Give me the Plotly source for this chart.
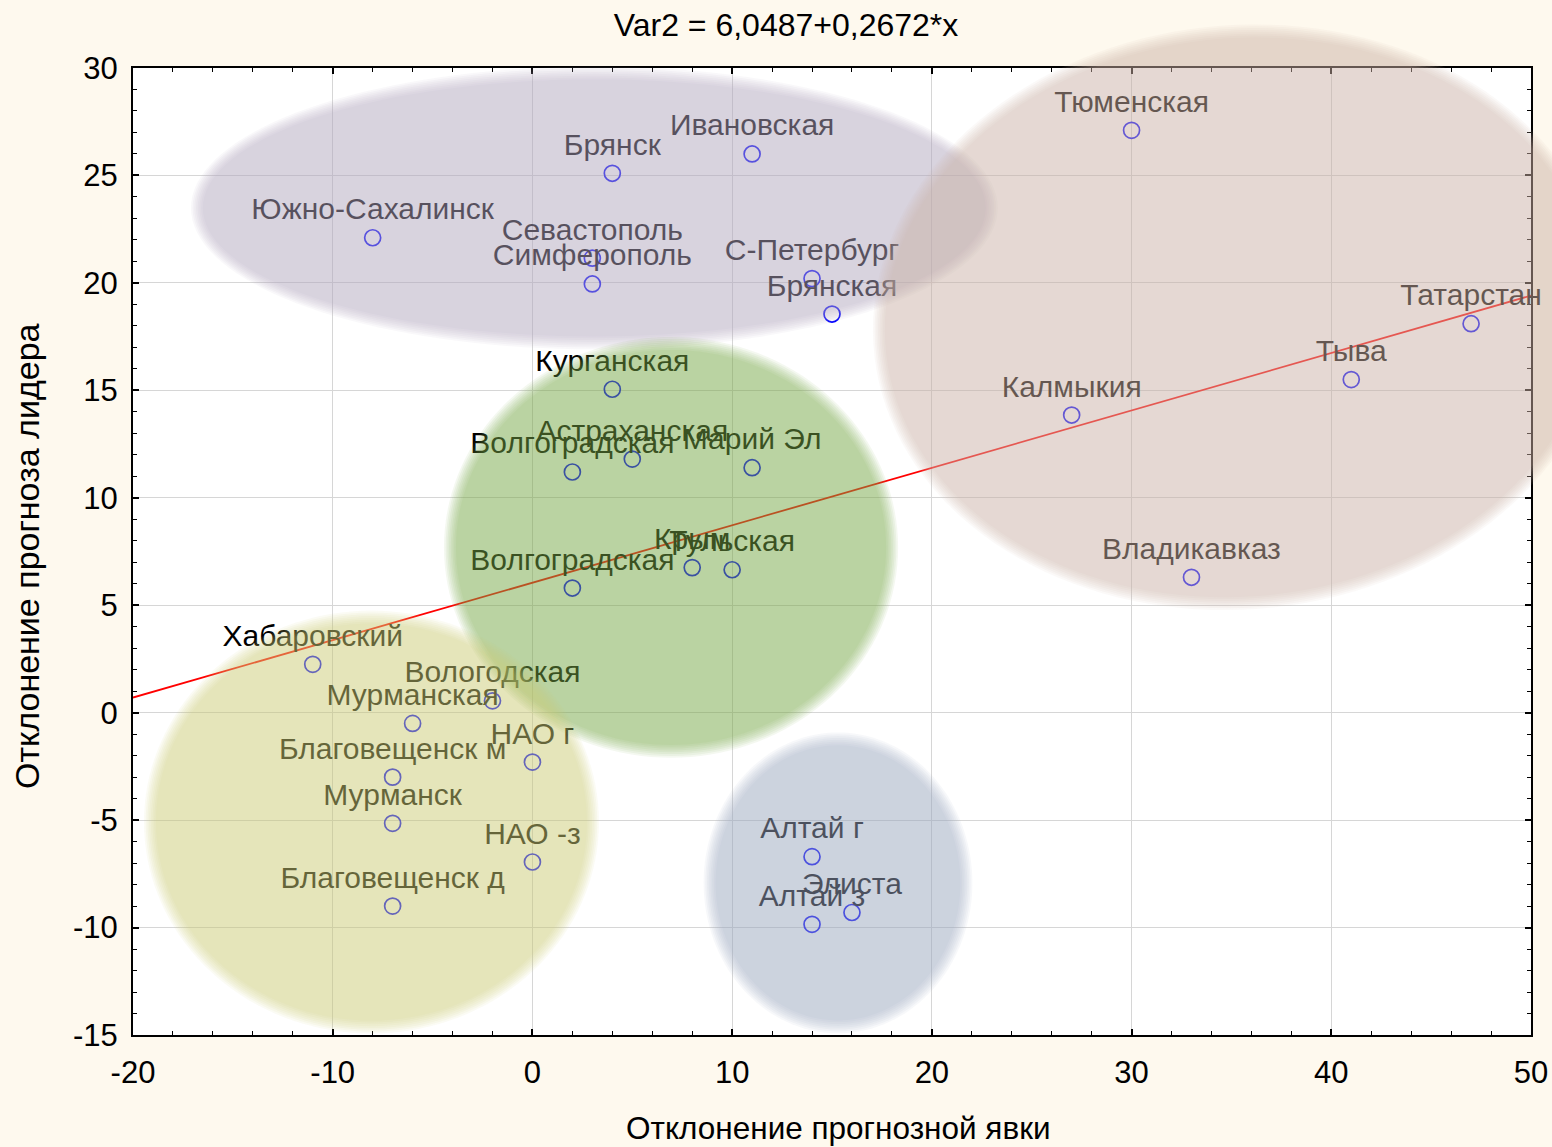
import numpy as np
import plotly.graph_objects as go

# ---------------- data ----------------
names = ["Тюменская", "Ивановская", "Брянск", "Южно-Сахалинск", "Севастополь",
         "Симферополь", "С-Петербург", "Брянская", "Татарстан", "Тыва",
         "Калмыкия", "Владикавказ", "Курганская", "Волгоградская", "Астраханская",
         "Марий Эл", "Волгоградская", "Крым", "Тульская", "Хабаровский",
         "Вологодская", "Мурманская", "НАО г", "Благовещенск м", "Мурманск",
         "НАО -з", "Благовещенск д", "Алтай г", "Элиста", "Алтай з"]
x_vals = [30, 11, 4, -8, 3, 3, 14, 15, 47, 41, 27, 33, 4, 2, 5, 11, 2, 8, 10, -11,
          -2, -6, 0, -7, -7, 0, -7, 14, 16, 14]
y_vals = [27.1, 26.0, 25.1, 22.1, 21.15, 19.95, 20.2, 18.55, 18.1, 15.5, 13.85, 6.3,
          15.05, 11.2, 11.8, 11.4, 5.8, 6.75, 6.65, 2.25, 0.55, -0.5, -2.3, -3.0,
          -5.15, -6.95, -9.0, -6.7, -9.3, -9.85]

intercept = 6.0487
slope = 0.2672
title_text = "Var2 = 6,0487+0,2672*x"
x_title = "Отклонение прогнозной явки"
y_title = "Отклонение прогноза лидера"

x_range = [-20, 50]
y_range = [-15, 30]
x_ticks = [-20, -10, 0, 10, 20, 30, 40, 50]
x_tick_labels = ["-20", "-10", "0", "10", "20", "30", "40", "50"]
y_ticks = [-15, -10, -5, 0, 5, 10, 15, 20, 25, 30]
y_tick_labels = ["-15", "-10", "-5", "0", "5", "10", "15", "20", "25", "30"]

# cluster ellipses: centre x, centre y, half-width, half-height (data units), rotation deg, colour
cluster_cx = [3.1, 35.43, 6.94, -8.06, 15.3]
cluster_cy = [23.49, 18.4, 7.69, -5.09, -7.92]
cluster_rx = [19.9, 18.1, 11.07, 11.09, 6.43]
cluster_ry = [6.28, 13.3, 9.49, 9.54, 6.7]
cluster_rot = [0, 4, 0, 0, 0]
cluster_color = ["rgb(185,173,193)", "rgb(201,178,175)", "rgb(121,167,67)",
                 "rgb(211,203,125)", "rgb(152,176,192)"]

FONT = "Liberation Sans, Arial, sans-serif"

fig = go.Figure()

# regression line
lx = np.array(x_range, dtype=float)
fig.add_trace(go.Scatter(x=lx, y=intercept + slope * lx, mode="lines",
                         line=dict(color="#ff0000", width=1.8),
                         hoverinfo="skip", showlegend=False))

# points with labels
fig.add_trace(go.Scatter(
    x=x_vals, y=y_vals, mode="markers+text", text=names,
    textposition="top center",
    textfont=dict(family=FONT, size=30, color="black"),
    marker=dict(symbol="circle-open", size=16, color="#0000ff",
                line=dict(width=1.7, color="#0000ff")),
    cliponaxis=False, showlegend=False))


def to_paper_x(v):
    return (v - x_range[0]) / (x_range[1] - x_range[0])


def to_paper_y(v):
    return (v - y_range[0]) / (y_range[1] - y_range[0])


def ellipse_path(cx, cy, rx, ry, rot_deg, n=144):
    t = np.linspace(0, 2 * np.pi, n, endpoint=False)
    th = np.deg2rad(rot_deg)
    ex = rx * np.cos(t)
    ey = ry * np.sin(t)
    xs = cx + ex * np.cos(th) - ey * np.sin(th)
    ys = cy + ex * np.sin(th) + ey * np.cos(th)
    pts = [f"{to_paper_x(a):.5f},{to_paper_y(b):.5f}" for a, b in zip(xs, ys)]
    return "M" + " L".join(pts) + " Z"


blur_steps = list(np.linspace(-0.3, 0.3, 8))
layer_opacity = 0.083
shapes = []
for cx, cy, rx, ry, rot, col in zip(cluster_cx, cluster_cy, cluster_rx, cluster_ry,
                                     cluster_rot, cluster_color):
    for d in blur_steps:
        shapes.append(dict(type="path", xref="paper", yref="paper",
                           path=ellipse_path(cx, cy, rx + d, ry + d, rot),
                           fillcolor=col, opacity=layer_opacity, line=dict(width=0),
                           layer="above"))

axis_common = dict(
    showline=True, linecolor="black", linewidth=2, mirror="allticks",
    ticks="inside", ticklen=6, tickwidth=1.5, tickcolor="black",
    showgrid=True, gridcolor="#d6d6d6", gridwidth=1, zeroline=False,
    automargin=False,
    tickfont=dict(family=FONT, size=31, color="black"),
)

fig.update_layout(
    width=1552, height=1147,
    margin=dict(l=133, r=21, t=68, b=112, autoexpand=False),
    paper_bgcolor="#fef9ee", plot_bgcolor="white",
    title=dict(text=title_text, xref="paper", x=(786 - 133) / 1398, xanchor="center",
               yref="container", y=1 - 25 / 1147, yanchor="middle",
               font=dict(family=FONT, size=32, color="black")),
    xaxis=dict(range=x_range, tickvals=x_ticks, ticktext=x_tick_labels,
               ticklabelstandoff=9,
               minor=dict(dtick=2, ticks="inside", ticklen=4, tickwidth=1.2,
                          tickcolor="black", showgrid=False),
               **axis_common),
    yaxis=dict(range=y_range, tickvals=y_ticks, ticktext=y_tick_labels,
               ticklabelstandoff=7,
               minor=dict(dtick=1, ticks="inside", ticklen=4, tickwidth=1.2,
                          tickcolor="black", showgrid=False),
               **axis_common),
    shapes=shapes,
    annotations=[
        dict(text=x_title, xref="paper", yref="paper", x=(838 - 133) / 1398,
             y=(1035 - 1128) / 967, xanchor="center", yanchor="middle",
             showarrow=False, font=dict(family=FONT, size=31.5, color="black")),
        dict(text=y_title, xref="paper", yref="paper", x=(27 - 133) / 1398,
             y=(1035 - 556) / 967, xanchor="center", yanchor="middle",
             textangle=-90, showarrow=False,
             font=dict(family=FONT, size=34, color="black")),
    ],
)

fig.write_html("out.html", config={"displayModeBar": False},
               post_script="document.body.style.margin='0';document.body.style.overflow='hidden';")
